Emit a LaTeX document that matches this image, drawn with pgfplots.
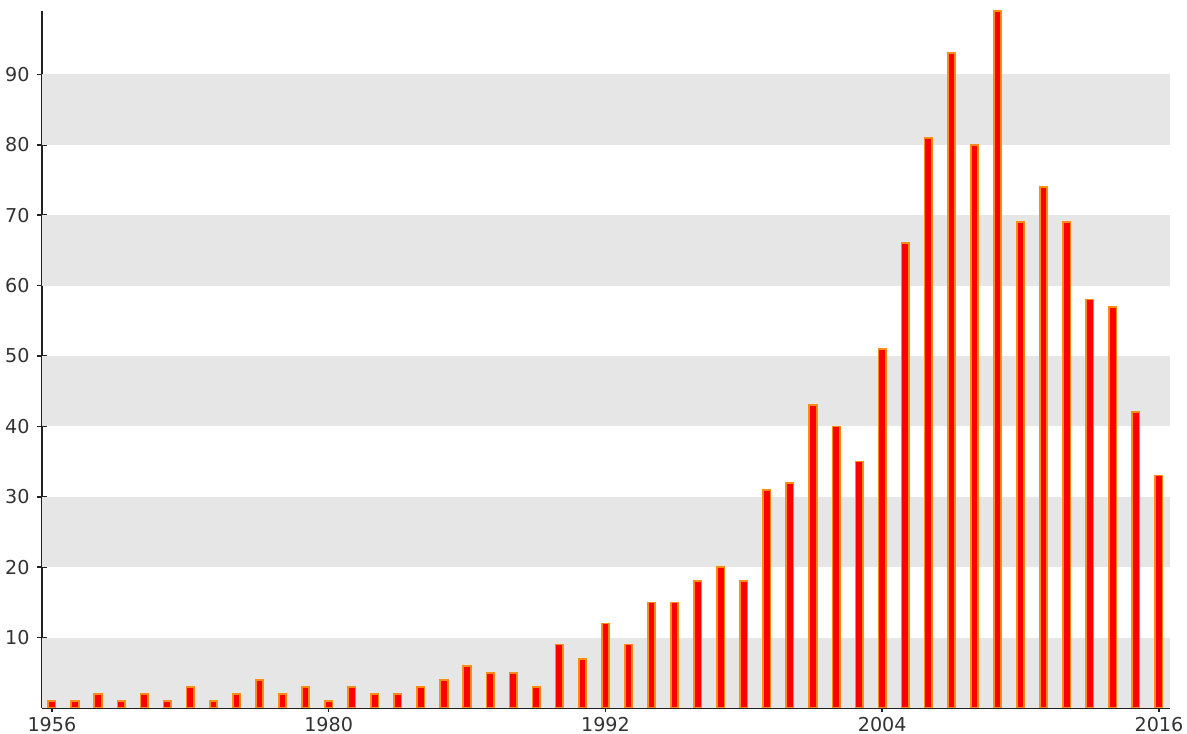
\documentclass[border=0pt]{standalone}
\usepackage{pgfplots}
\pgfplotsset{compat=1.18}
\usepackage{fontspec}
\setmainfont{DejaVu Sans}
\definecolor{band}{RGB}{230,230,230}
\definecolor{barfill}{RGB}{255,0,0}
\definecolor{barline}{RGB}{255,140,20}
\definecolor{axcol}{RGB}{34,34,34}
\definecolor{txt}{RGB}{51,51,51}
\begin{document}
\begin{tikzpicture}
\begin{axis}[
    scale only axis,
    width=564bp, height=348.5bp,
    xmin=-0.43, xmax=48.48,
    ymin=0, ymax=99,
    axis x line=bottom, axis y line=left,
    axis line style={-, axcol, line width=1bp},
    xtick={0,12,24,36,48},
    xticklabels={1956,1980,1992,2004,2016},
    ytick={10,20,...,90},
    tick align=center,
    major tick length=4.5bp,
    tick style={axcol, line width=0.8bp},
    tick label style={font=\fontsize{9.6}{11}\selectfont, text=txt},
    /pgf/number format/assume math mode=true,
    xticklabel style={yshift=1.2bp},
    yticklabel style={xshift=-0.5bp},
    ]
% alternating bands
\fill[band] (axis cs:-0.43,0) rectangle (axis cs:48.48,10);
\fill[band] (axis cs:-0.43,20) rectangle (axis cs:48.48,30);
\fill[band] (axis cs:-0.43,40) rectangle (axis cs:48.48,50);
\fill[band] (axis cs:-0.43,60) rectangle (axis cs:48.48,70);
\fill[band] (axis cs:-0.43,80) rectangle (axis cs:48.48,90);

\addplot[ybar, bar width=3.7bp, fill=barfill, draw=barline, line width=0.85bp]
  coordinates {
  (0,1) (1,1) (2,2) (3,1) (4,2) (5,1) (6,3) (7,1) (8,2) (9,4)
  (10,2) (11,3) (12,1) (13,3) (14,2) (15,2) (16,3) (17,4) (18,6) (19,5)
  (20,5) (21,3) (22,9) (23,7) (24,12) (25,9) (26,15) (27,15) (28,18) (29,20)
  (30,18) (31,31) (32,32) (33,43) (34,40) (35,35) (36,51) (37,66) (38,81) (39,93)
  (40,80) (41,99) (42,69) (43,74) (44,69) (45,58) (46,57) (47,42) (48,33)
  };
\end{axis}
\pgfresetboundingbox
\path ([shift={(-21bp,-13bp)}]current axis.south west) rectangle ([shift={(8.5bp,5.5bp)}]current axis.north east);
\end{tikzpicture}
\end{document}
